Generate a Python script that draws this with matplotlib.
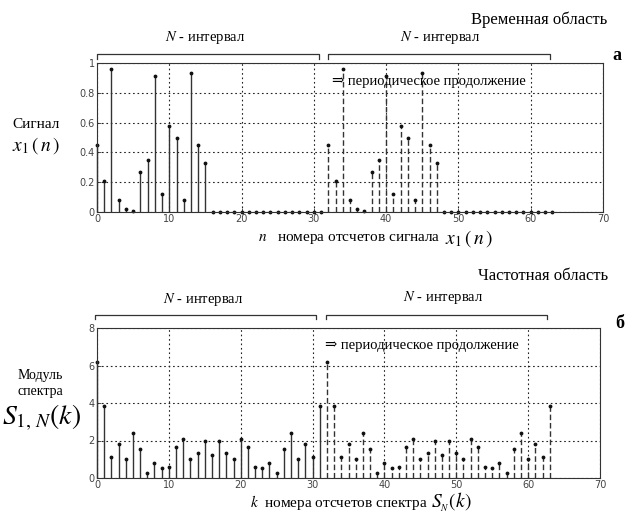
import numpy as np
import matplotlib
matplotlib.use("Agg")
import matplotlib.pyplot as plt
import matplotlib.transforms as mtransforms

plt.rcParams['mathtext.fontset'] = 'stix'
plt.rcParams['font.family'] = ['Liberation Serif', 'DejaVu Serif']

# ---- data ----
N = 32
n_first = list(range(0, 32))
n_second = list(range(32, 64))
x1_values = [0.45, 0.21, 0.96, 0.08, 0.02, 0.01, 0.27, 0.35, 0.91, 0.12,
             0.58, 0.50, 0.08, 0.93, 0.45, 0.33,
             0, 0, 0, 0, 0, 0, 0, 0, 0, 0, 0, 0, 0, 0, 0, 0]
S_values = [6.2, 3.85, 1.1, 1.8, 1.0, 2.4, 1.53, 0.29, 0.82, 0.52,
            0.6, 1.64, 2.1, 1.04, 1.36, 1.95, 1.21, 1.95, 1.36, 1.04,
            2.1, 1.64, 0.6, 0.52, 0.82, 0.29, 1.53, 2.4, 1.0, 1.8,
            1.1, 3.85]
x_ticks = [0, 10, 20, 30, 40, 50, 60, 70]
y_ticks_top = [0, 0.2, 0.4, 0.6, 0.8, 1]
y_labels_top = ['0', '0.2', '0.4', '0.6', '0.8', '1']
y_ticks_bot = [0, 2, 4, 6, 8]

W, H = 625, 515
fig = plt.figure(figsize=(W / 100, H / 100), dpi=100)


def fx(x):
    return x / W


def fy(y):
    return 1 - y / H


def make_axes(l, t, r, b):
    return fig.add_axes([fx(l), fy(b), fx(r) - fx(l), fy(t) - fy(b)])


ax1 = make_axes(97, 63, 603, 212)
ax2 = make_axes(97, 328, 600, 478)

tick_font = dict(family='DejaVu Sans', size=7, color='#444444')


def style(ax, yt, ylab, ymax):
    ax.set_xlim(0, 70)
    ax.set_ylim(0, ymax)
    ax.set_xticks(x_ticks)
    ax.set_xticklabels([str(t) for t in x_ticks], **tick_font)
    ax.set_yticks(yt)
    ax.set_yticklabels(ylab, **tick_font)
    ax.tick_params(direction='in', length=3, width=0.6, color='#333333', pad=1.5)
    ax.grid(True, linestyle=(0, (1.5, 2.5)), color='#222222', linewidth=0.8)
    for s in ax.spines.values():
        s.set_color('#333333')
        s.set_linewidth(0.8)
    ax.set_axisbelow(True)


def stems(ax, xs, ys, ls, col):
    ml, sl, bl = ax.stem(xs, ys, linefmt='-', markerfmt='.', basefmt=' ')
    plt.setp(sl, color=col, linewidth=1.0, linestyle=ls)
    plt.setp(ml, color='#111111', markersize=3.5)
    ml.set_clip_on(False)
    sl.set_clip_on(False)


style(ax1, y_ticks_top, y_labels_top, 1)
stems(ax1, n_first, x1_values, '-', '#333333')
stems(ax1, n_second, x1_values, (0, (4, 2)), '#333333')

style(ax2, y_ticks_bot, [str(t) for t in y_ticks_bot], 8)
stems(ax2, n_first, S_values, '-', '#333333')
stems(ax2, n_second, S_values, (0, (4, 2)), '#333333')


def bracket(ax, x0, x1, ytop, yleg):
    tr = mtransforms.blended_transform_factory(ax.transData, ax.transAxes)
    ax.plot([x0, x0, x1, x1], [yleg, ytop, ytop, yleg], color='#333333',
            linewidth=0.9, transform=tr, clip_on=False)


bracket(ax1, 0, 30.7, 1.06, 1.03)
bracket(ax1, 32, 62.7, 1.06, 1.03)
bracket(ax2, -0.3, 30.5, 1.09, 1.06)
bracket(ax2, 31.9, 62.6, 1.09, 1.06)

serif = dict(family=['Liberation Serif', 'DejaVu Serif'])

# top figure texts
fig.text(fx(607), fy(20), 'Временная область', ha='right', va='center', fontsize=12, **serif)
fig.text(fx(617), fy(55), 'а', ha='center', va='center', fontsize=13, fontweight='bold', **serif)
fig.text(fx(205), fy(38), r'$N$ - интервал', ha='center', va='center', fontsize=10.5, **serif)
fig.text(fx(440), fy(38), r'$N$ - интервал', ha='center', va='center', fontsize=10.5, **serif)
fig.text(fx(332), fy(82), '⇒ периодическое продолжение', ha='left', va='center',
         fontsize=10.5, **serif)
fig.text(fx(36), fy(124), 'Сигнал', ha='center', va='center', fontsize=11, **serif)
fig.text(fx(36), fy(146), r'$x_1\,(\,n\,)$', ha='center', va='center', fontsize=14)
fig.text(fx(445), fy(239), r'$x_1\,(\,n\,)$', ha='left', va='center', fontsize=14)
fig.text(fx(440), fy(239), r'$n$   номера отсчетов сигнала', ha='right',
         va='center', fontsize=11, **serif)

# bottom figure texts
fig.text(fx(608), fy(276), 'Частотная область', ha='right', va='center', fontsize=12, **serif)
fig.text(fx(620), fy(323), 'б', ha='center', va='center', fontsize=13, fontweight='bold', **serif)
fig.text(fx(203), fy(300), r'$N$ - интервал', ha='center', va='center', fontsize=10.5, **serif)
fig.text(fx(443), fy(298), r'$N$ - интервал', ha='center', va='center', fontsize=10.5, **serif)
fig.text(fx(325), fy(345), '⇒ периодическое продолжение', ha='left', va='center',
         fontsize=10.5, **serif)
fig.text(fx(40), fy(375), 'Модуль', ha='center', va='center', fontsize=10, **serif)
fig.text(fx(40), fy(392), 'спектра', ha='center', va='center', fontsize=10, **serif)
fig.text(fx(42), fy(418), r'$S_{1,\,N}(k)$', ha='center', va='center', fontsize=20)
fig.text(fx(428), fy(502), r'$k$  номера отсчетов спектра', ha='right',
         va='center', fontsize=11, **serif)
fig.text(fx(431), fy(502), r'$S_{_N}(k)$', ha='left', va='center', fontsize=14)

fig.savefig('out.png', dpi=100)
